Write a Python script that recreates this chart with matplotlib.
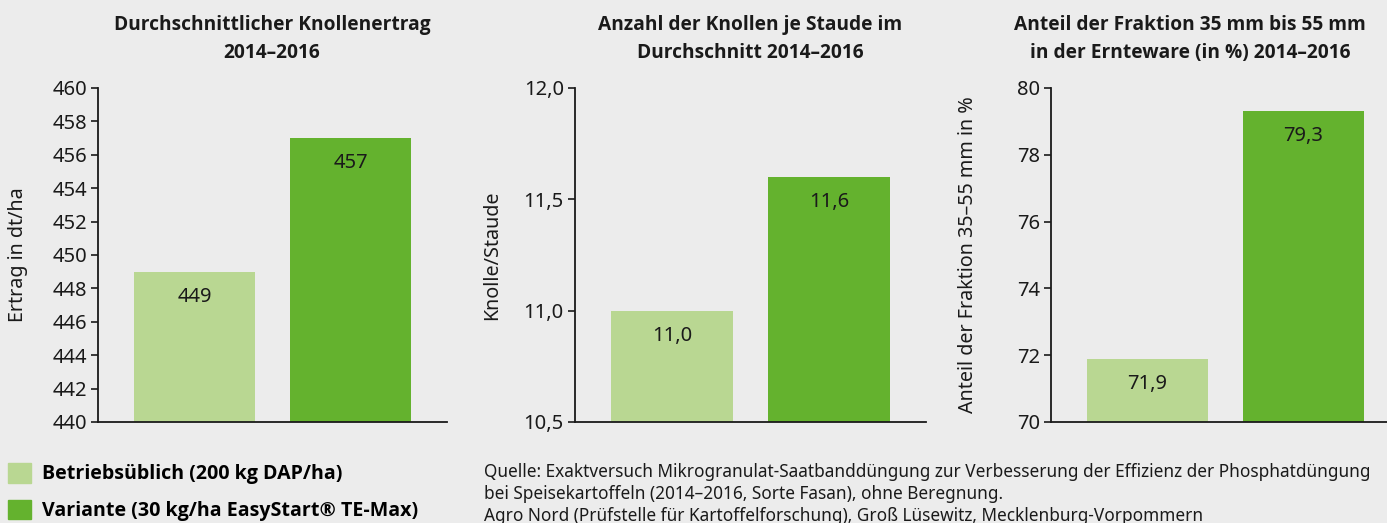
import matplotlib.pyplot as plt
from matplotlib.patches import Patch

W, H = 1387, 523
BG = '#ececec'
LIGHT = '#b9d792'
DARK = '#64b22e'
INK = '#1a1a1a'
BOLD_FONT = ['Open Sans', 'DejaVu Sans']

plt.rcParams['font.family'] = ['Noto Sans', 'DejaVu Sans']

groups = ['Betriebsüblich (200 kg DAP/ha)', 'Variante (30 kg/ha EasyStart® TE-Max)']
ertrag = [449, 457]
knollen = [11.0, 11.6]
fraktion = [71.9, 79.3]

titles = ['Durchschnittlicher Knollenertrag\n2014–2016',
          'Anzahl der Knollen je Staude im\nDurchschnitt 2014–2016',
          'Anteil der Fraktion 35 mm bis 55 mm\nin der Ernteware (in %) 2014–2016']
ylabels = ['Ertrag in dt/ha', 'Knolle/Staude', 'Anteil der Fraktion 35–55 mm in %']
ylims = [(440, 460), (10.5, 12.0), (70, 80)]
ysteps = [2, 0.5, 2]
tick_dec = [0, 1, 0]
label_dec = [0, 1, 1]

source = ('Quelle: Exaktversuch Mikrogranulat-Saatbanddüngung zur Verbesserung der Effizienz der Phosphatdüngung\n'
          'bei Speisekartoffeln (2014–2016, Sorte Fasan), ohne Beregnung.\n'
          'Agro Nord (Prüfstelle für Kartoffelforschung), Groß Lüsewitz, Mecklenburg-Vorpommern')


def fmt(v, d):
    return f'{v:.{d}f}'.replace('.', ',')


fig = plt.figure(figsize=(W / 100, H / 100), dpi=100, facecolor=BG)

# axes boxes in pixels: left, right; ylabel right edge
boxes = [(98, 447), (575, 926), (1051, 1400)]
label_x = [28, 502, 978]
title_x = [272, 750, 1190]
top, bottom = 88, 422

for i, data in enumerate([ertrag, knollen, fraktion]):
    l, r = boxes[i]
    ax = fig.add_axes([l / W, (H - bottom) / H, (r - l) / W, (bottom - top) / H])
    ax.set_facecolor(BG)
    ax.bar([0, 1], data, width=0.776, color=[LIGHT, DARK])
    lo, hi = ylims[i]
    ax.set_ylim(lo, hi)
    ax.set_xlim(-0.619, 1.619)
    n = int(round((hi - lo) / ysteps[i]))
    ticks = [lo + k * ysteps[i] for k in range(n + 1)]
    ax.set_yticks(ticks)
    ax.set_yticklabels([fmt(t, tick_dec[i]) for t in ticks])
    ax.set_xticks([])
    for s in ['top', 'right']:
        ax.spines[s].set_visible(False)
    for s in ['left', 'bottom']:
        ax.spines[s].set_linewidth(1.3)
        ax.spines[s].set_color(INK)
    ax.tick_params(axis='y', length=5, width=1.2, color=INK, pad=3,
                   labelsize=14.5, labelcolor=INK)
    ax.set_ylabel(ylabels[i], fontsize=14.2, color=INK)
    ax.yaxis.set_label_coords((label_x[i] - l) / (r - l), 0.5)
    for x, v in enumerate(data):
        ax.annotate(fmt(v, label_dec[i]), (x, v), xytext=(0, -18), textcoords='offset points',
                    ha='center', va='center', fontsize=14.5, color=INK)
    fig.text(title_x[i] / W, 1 - 39 / H, titles[i], ha='center', va='center',
             fontsize=13.8, fontweight='bold', family=BOLD_FONT, color=INK, linespacing=1.5)

handles = [Patch(color=LIGHT), Patch(color=DARK)]
fig.legend(handles, groups, loc='upper left', bbox_to_anchor=(2 / W, 1 - 457 / H),
           frameon=False, prop={'weight': 'bold', 'size': 14.1, 'family': BOLD_FONT},
           handlelength=1.17, handleheight=1.17, handletextpad=0.55, labelspacing=0.78,
           borderaxespad=0, borderpad=0.3)

fig.text(484 / W, 1 - 463 / H, source, ha='left', va='top', fontsize=12.4,
         color=INK, linespacing=1.28)

fig.savefig('out.png', dpi=100, facecolor=BG)
